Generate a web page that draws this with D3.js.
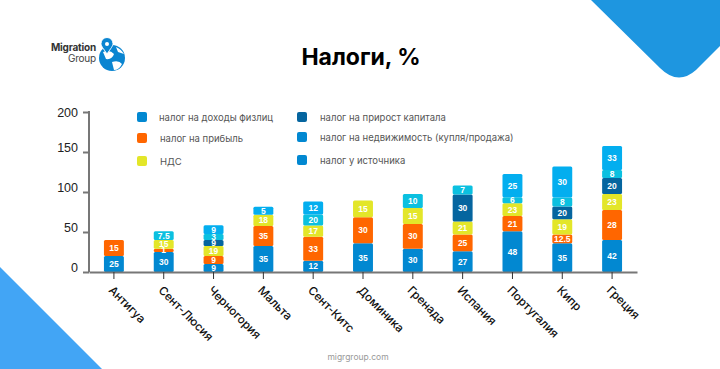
<!DOCTYPE html>
<html><head><meta charset="utf-8">
<script src="https://cdn.jsdelivr.net/npm/d3@7/dist/d3.min.js"></script>
<style>html,body{margin:0;padding:0;background:#fff}svg{display:block}</style>
</head><body><svg id="c" width="720" height="369"></svg>
<script>
const countries=["Антигуа","Сент-Люсия","Черногория","Мальта","Сент-Китс","Доминика","Гренада","Испания","Португалия","Кипр","Греция"];
const seriesNames=["налог на доходы физлиц","налог на прибыль","НДС","налог на прирост капитала","налог на недвижимость (купля/продажа)","налог у источника"];
const seriesColors=["#0288d1","#ff6600","#e3e629","#05659f","#0bc0e0","#03aeef"];
const legendColors=["#0288d1","#ff6600","#e3e629","#05659f","#0288d1","#0288d1"];
// bar heights as drawn on the axis
const incomeH=[20,25,10,32.5,14,36,29,26,51,36,40];
const profitH=[20,4,10,25,30,32.5,31,21,19,11,37.5];
const vatH=[0,11,12.5,14,14,21,20,16,16,19,20];
const capitalH=[0,0,7.5,0,0,0,0,34,0,16,20];
const propertyH=[0,11,7.5,0,14,0,17.5,11,7.5,11,10];
const sourceH=[0,0,11,10,16,0,0,0,29,39,30];
// printed labels
const incomeL=["25","30","9","35","12","35","30","27","48","35","42"];
const profitL=["15","1","9","35","33","30","30","25","21","12.5","28"];
const vatL=["","15","19","18","17","15","15","21","23","19","23"];
const capitalL=["","","9","","","","","30","","20","20"];
const propertyL=["","7.5","3","","20","","10","7","6","8","8"];
const sourceL=["","","9","5","12","","","","25","30","33"];
const yTicks=[0,50,100,150,200];

const heights=[incomeH,profitH,vatH,capitalH,propertyH,sourceH];
const labels=[incomeL,profitL,vatL,capitalL,propertyL,sourceL];
const svg=d3.select("#c");
const x=d3.scaleBand().domain(countries).range([89,637]).paddingInner(0.6).paddingOuter(0.3);
const y=d3.scaleLinear().domain([0,200]).range([272,112]);

// decorations
svg.append("path").attr("d","M591 0L660 68Q678 86 696 70L720 46V0Z").attr("fill","#1e96e0");
svg.append("path").attr("d","M0 267L102 369H0Z").attr("fill","#42a5f5");

// logo
const logo=svg.append("g");
logo.append("text").attr("x",96).attr("y",51).attr("text-anchor","end").attr("font-family","Inter").attr("font-weight",700).attr("font-size",10).attr("letter-spacing",-0.2).attr("fill","#333").text("Migration");
logo.append("text").attr("x",96).attr("y",62).attr("text-anchor","end").attr("font-family","Inter").attr("font-size",10).attr("letter-spacing",-0.2).attr("fill","#444").text("Group");
logo.append("circle").attr("cx",112).attr("cy",58).attr("r",13).attr("fill","#0a85d1");
logo.append("path").attr("d","M103 52Q110 49 114 54Q112 60 106 59ZM112 62Q119 60 122 64Q119 70 114 70ZM116 47Q121 49 124 54L118 52Z").attr("fill","#fff");
logo.append("path").attr("d","M107 54C103 48 101 46 101 43.5A6 6 0 0 1 113 43.5C113 46 111 48 107 54Z").attr("fill","#0a85d1").attr("stroke","#fff").attr("stroke-width",1);
logo.append("circle").attr("cx",107).attr("cy",44).attr("r",2).attr("fill","#fff");

// title and footer
svg.append("text").attr("x",361).attr("y",65).attr("text-anchor","middle").attr("font-family","Inter").attr("font-weight",700).attr("font-size",23).attr("fill","#000").text("Налоги, %");
svg.append("text").attr("x",358).attr("y",360).attr("text-anchor","middle").attr("font-family","Inter").attr("font-size",8.5).attr("fill","#999").text("migrgroup.com");

// legend
const legX=[137,137,137,297,297,297],legY=[112,133,156,112,132,155],legT=[159,160,160,320,320,320];
seriesNames.forEach((n,i)=>{
  svg.append("rect").attr("x",legX[i]).attr("y",legY[i]).attr("width",10).attr("height",10).attr("rx",2).attr("fill",legendColors[i]);
  svg.append("text").attr("x",legT[i]).attr("y",legY[i]+9).attr("font-family","Inter").attr("font-size",9.5).attr("fill","#555").text(n);
});

// stacked bars
const rows=countries.map((c,i)=>{const o={c};heights.forEach((h,s)=>o[s]=h[i]);return o;});
const stack=d3.stack().keys(d3.range(6))(rows);
stack.forEach((layer,s)=>{
  const g=svg.append("g");
  layer.forEach((d,i)=>{
    if(heights[s][i]===0)return;
    const top=y(d[1]),bot=y(d[0]);
    g.append("rect").attr("x",x(countries[i])).attr("width",x.bandwidth()).attr("y",top).attr("height",bot-top).attr("rx",1.5).attr("fill",seriesColors[s]);
  });
});
stack.forEach((layer,s)=>{
  layer.forEach((d,i)=>{
    if(heights[s][i]===0)return;
    const top=y(d[1]),bot=y(d[0]);
    svg.append("text").attr("x",x(countries[i])+x.bandwidth()/2).attr("y",(top+bot)/2+3).attr("text-anchor","middle")
      .attr("font-family","Liberation Sans").attr("font-weight",700).attr("font-size",8.5).attr("fill","#fff").text(labels[s][i]);
  });
});

// axes
const ax=svg.append("g").attr("transform","translate(89,0)").call(d3.axisLeft(y).tickValues(yTicks).tickSize(6).tickPadding(5));
ax.selectAll("path,line").attr("stroke","#777").attr("stroke-width",2);
ax.select("path").attr("d","M0,111V272");
ax.selectAll("text").attr("font-family","Liberation Sans").attr("font-size",12.5).attr("fill","#222").attr("dy",d=>d===200?4:-0.5);
const bx=svg.append("g").attr("transform","translate(0,272)").call(d3.axisBottom(x).tickSize(7).tickPadding(6).tickSizeOuter(0));
bx.select("path").attr("stroke","#777").attr("stroke-width",2);
bx.selectAll("line").attr("stroke","#333").attr("stroke-width",1);
bx.selectAll("text").attr("font-family","Inter").attr("font-weight",500).attr("font-size",11.6).attr("fill","#111").attr("text-anchor","start").attr("dy",0)
  .attr("transform","translate(-6,19) rotate(45)").attr("y",0).attr("x",0);
</script></body></html>
